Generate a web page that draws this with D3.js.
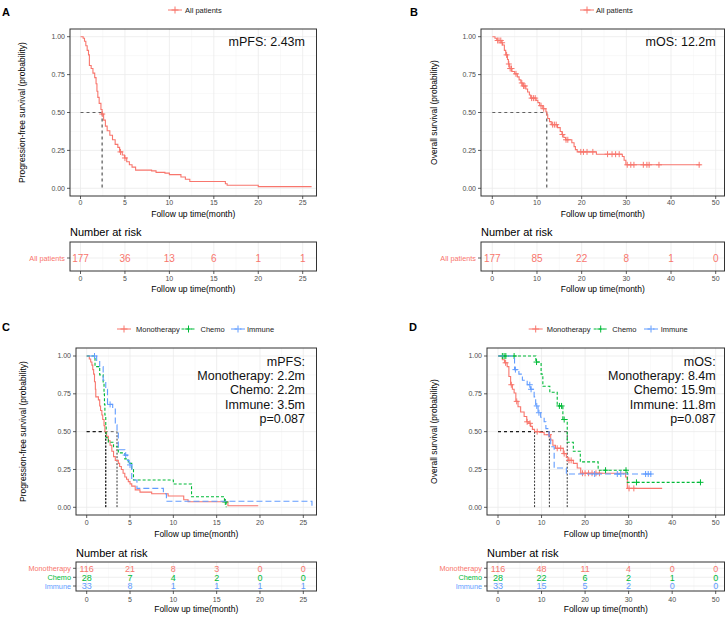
<!DOCTYPE html>
<html>
<head>
<meta charset="utf-8">
<script src="https://cdn.jsdelivr.net/npm/d3@7"></script>
<style>
  body { margin: 0; background: #fff; }
  svg { display: block; }
</style>
</head>
<body>
<svg id="chart" width="727" height="619"></svg>
<script>
// ---- data ----
// A: PFS, all patients
const pfsAllT = [0, 0.3, 0.45, 0.6, 0.75, 0.9, 1.0, 1.2, 1.4, 1.6, 1.75, 1.85, 1.95, 2.1, 2.3, 2.43, 2.6, 2.8, 3.0, 3.3, 3.6, 3.9, 4.2, 4.4, 4.7, 4.95, 5.2, 5.5, 5.8, 6.2, 8.0, 8.5, 9.5, 10.0, 11.3, 11.8, 12.3, 16.3, 16.5, 20.0, 26.0];
const pfsAllS = [1, 0.99, 0.97, 0.94, 0.91, 0.88, 0.81, 0.79, 0.76, 0.73, 0.69, 0.64, 0.60, 0.56, 0.52, 0.49, 0.45, 0.41, 0.38, 0.35, 0.32, 0.29, 0.27, 0.24, 0.22, 0.20, 0.175, 0.155, 0.14, 0.12, 0.115, 0.105, 0.10, 0.09, 0.075, 0.06, 0.045, 0.03, 0.02, 0.011, 0.011];
const pfsAllCens = [2.45, 4.5, 5.0];

// B: OS, all patients
const osAllT = [0, 0.6, 1.0, 2.0, 2.3, 2.7, 3.0, 3.4, 3.6, 3.8, 4.4, 5.0, 5.6, 6.0, 6.4, 6.8, 7.5, 7.9, 8.3, 8.6, 9.8, 10.2, 10.6, 11.3, 12.0, 12.2, 12.4, 12.8, 13.2, 14.6, 15.2, 15.6, 16.0, 16.4, 17.8, 18.3, 18.6, 19.0, 23.3, 29.1, 29.5, 29.9, 46.6];
const osAllS = [1, 0.99, 0.975, 0.96, 0.945, 0.91, 0.88, 0.85, 0.82, 0.79, 0.77, 0.755, 0.735, 0.715, 0.695, 0.675, 0.655, 0.635, 0.615, 0.595, 0.58, 0.565, 0.545, 0.525, 0.505, 0.485, 0.46, 0.44, 0.42, 0.40, 0.375, 0.355, 0.335, 0.32, 0.30, 0.275, 0.255, 0.24, 0.225, 0.21, 0.185, 0.155, 0.155];
const osAllCens = [1.2, 1.5, 1.9, 2.2, 3.2, 3.7, 4.0, 4.3, 5.3, 6.6, 7.0, 7.3, 8.8, 9.2, 9.6, 10.9, 11.5, 13.5, 13.9, 14.3, 15.7, 16.5, 16.9, 19.8, 20.4, 21.2, 22.5, 25.8, 26.8, 27.6, 28.4, 30.2, 31.0, 31.7, 33.8, 34.6, 35.1, 37.3, 46.3];

// C: PFS by group
const pfsMonoT = [0, 0.3, 0.46, 0.6, 0.7, 0.8, 0.9, 1.0, 1.05, 1.35, 1.5, 1.6, 1.75, 1.85, 2.0, 2.1, 2.3, 2.5, 2.7, 2.9, 3.1, 3.3, 3.65, 3.8, 4.0, 4.2, 4.4, 4.6, 4.8, 5.0, 5.2, 5.6, 6.15, 7.5, 9.4, 11.2, 11.7, 16.3, 19.8];
const pfsMonoS = [1, 0.98, 0.96, 0.94, 0.91, 0.88, 0.83, 0.78, 0.73, 0.71, 0.67, 0.64, 0.61, 0.58, 0.54, 0.50, 0.47, 0.44, 0.41, 0.37, 0.335, 0.31, 0.29, 0.27, 0.25, 0.225, 0.20, 0.185, 0.17, 0.155, 0.14, 0.115, 0.10, 0.09, 0.075, 0.05, 0.037, 0.01, 0.01];
const pfsMonoCens = [];
const pfsChemoT = [0, 0.96, 1.5, 1.9, 2.0, 2.05, 2.1, 2.2, 2.25, 2.5, 3.1, 3.65, 4.4, 4.8, 5.2, 5.4, 10.0, 12.1, 15.9, 16.1];
const pfsChemoS = [1, 0.93, 0.875, 0.82, 0.75, 0.68, 0.61, 0.54, 0.46, 0.43, 0.40, 0.36, 0.32, 0.29, 0.25, 0.18, 0.154, 0.07, 0.035, 0];
const pfsChemoCens = [16.0];
const pfsImmT = [0, 1.15, 1.5, 1.9, 2.2, 2.4, 3.0, 3.3, 3.5, 3.65, 4.4, 4.7, 4.9, 5.2, 5.8, 8.85, 9.2, 26.0];
const pfsImmS = [1, 0.97, 0.93, 0.84, 0.78, 0.68, 0.655, 0.545, 0.50, 0.38, 0.345, 0.31, 0.28, 0.18, 0.125, 0.09, 0.04, 0];
const pfsImmCens = [0.9, 2.7, 4.5, 5.0];

// D: OS by group
const osMonoT = [0, 1.0, 1.5, 2.1, 2.5, 2.9, 3.3, 3.7, 4.1, 4.6, 5.2, 6.0, 6.6, 7.1, 7.5, 7.9, 8.4, 9.6, 10.6, 12.1, 12.6, 13.2, 15.0, 15.7, 16.1, 17.3, 18.2, 19.0, 29.3, 29.7, 37.7];
const osMonoS = [1, 0.975, 0.955, 0.93, 0.865, 0.81, 0.78, 0.755, 0.70, 0.665, 0.63, 0.60, 0.565, 0.555, 0.535, 0.515, 0.50, 0.495, 0.48, 0.445, 0.41, 0.39, 0.355, 0.33, 0.31, 0.29, 0.26, 0.225, 0.20, 0.125, 0.125];
const osMonoCens = [1.75, 3.06, 4.3, 6.7, 7.35, 9.0, 11.7, 13.6, 14.4, 15.2, 16.3, 16.8, 19.4, 20.0, 20.8, 21.6, 22.5, 23.3, 30.1, 31.2];
const osChemoT = [0, 8.7, 9.9, 10.3, 11.9, 13.6, 14.9, 15.9, 17.3, 18.9, 23.0, 29.7, 46.5];
const osChemoS = [1, 0.96, 0.88, 0.80, 0.76, 0.67, 0.58, 0.43, 0.37, 0.30, 0.245, 0.165, 0.165];
const osChemoCens = [1.0, 1.4, 1.8, 3.7, 8.85, 14.1, 14.6, 15.2, 24.7, 29.4, 31.8, 46.5];
const osImmT = [0, 3.8, 4.8, 5.6, 6.7, 7.5, 8.3, 8.65, 9.2, 9.8, 10.6, 11.0, 11.7, 12.1, 12.9, 15.7, 35.2];
const osImmS = [1, 0.91, 0.88, 0.84, 0.81, 0.78, 0.73, 0.67, 0.625, 0.595, 0.565, 0.52, 0.47, 0.40, 0.26, 0.22, 0.22];
const osImmCens = [4.0, 7.3, 7.6, 8.9, 9.4, 22.2, 27.4, 28.2, 33.9, 34.5, 35.1];

// numbers at risk
const riskTimesPfs = [0, 5, 10, 15, 20, 25];
const riskTimesOs = [0, 10, 20, 30, 40, 50];
const riskPfsAll = [177, 36, 13, 6, 1, 1];
const riskOsAll = [177, 85, 22, 8, 1, 0];
const riskPfsMono = [116, 21, 8, 3, 0, 0];
const riskPfsChemo = [28, 7, 4, 2, 0, 0];
const riskPfsImm = [33, 8, 1, 1, 1, 1];
const riskOsMono = [116, 48, 11, 4, 0, 0];
const riskOsChemo = [28, 22, 6, 2, 1, 0];
const riskOsImm = [33, 15, 5, 2, 0, 0];

const yTicks = [0, 0.25, 0.5, 0.75, 1];
const groups = ['Monotherapy', 'Chemo', 'Immune'];

// ---- style ----
const FONT = '"Liberation Sans", Arial, sans-serif';
const RED = '#F8766D', GREEN = '#00BA38', BLUE = '#619CFF';
const DASH = {solid: null, chemo: '3,2', imm: '6,3'};

const svg = d3.select('#chart').style('font-family', FONT);

function stepAt(T, S, t) {
  let i = d3.bisectRight(T, t) - 1;
  return S[Math.max(0, i)];
}

function drawPanel(p) {
  const g = svg.append('g');
  const x = d3.scaleLinear().domain([0, p.xMax]).range(p.xRange);
  const y = d3.scaleLinear().domain([0, 1]).range(p.yRange);
  const [bl, br] = p.boxX, [bt, bb] = p.boxY;
  const step = p.xMax / 5;
  const xTicks = d3.range(0, p.xMax + 0.001, step);
  const xMinor = d3.range(step / 2, p.xMax + step, step).filter(v => x(v) < br);

  // letter
  g.append('text').attr('x', p.letter[1]).attr('y', p.letter[2])
    .attr('font-size', 11).attr('font-weight', 'bold').text(p.letter[0]);

  // legend
  p.legend.forEach(it => {
    const lg = g.append('g');
    lg.append('line').attr('x1', it.cx - 7).attr('x2', it.cx + 7)
      .attr('y1', p.legendY).attr('y2', p.legendY)
      .attr('stroke', it.color).attr('stroke-width', 1).attr('stroke-dasharray', it.dash);
    lg.append('path').attr('d', `M${it.cx - 3.5},${p.legendY}h7M${it.cx},${p.legendY - 3.5}v7`)
      .attr('stroke', it.color).attr('stroke-width', 1);
    lg.append('text').attr('x', it.tx).attr('y', p.legendY).attr('dy', '0.35em')
      .attr('font-size', 7.5).attr('fill', '#222').text(it.label);
  });

  // grid
  const grid = g.append('g');
  xMinor.forEach(v => grid.append('line').attr('x1', x(v)).attr('x2', x(v)).attr('y1', bt).attr('y2', bb)
    .attr('stroke', '#F3F3F3').attr('stroke-width', 0.5));
  [0.125, 0.375, 0.625, 0.875].forEach(v => grid.append('line').attr('x1', bl).attr('x2', br).attr('y1', y(v)).attr('y2', y(v))
    .attr('stroke', '#F3F3F3').attr('stroke-width', 0.5));
  xTicks.forEach(v => grid.append('line').attr('x1', x(v)).attr('x2', x(v)).attr('y1', bt).attr('y2', bb)
    .attr('stroke', '#EBEBEB').attr('stroke-width', 0.8));
  yTicks.forEach(v => grid.append('line').attr('x1', bl).attr('x2', br).attr('y1', y(v)).attr('y2', y(v))
    .attr('stroke', '#EBEBEB').attr('stroke-width', 0.8));

  // median lines
  p.medians.forEach(m => {
    g.append('line').attr('x1', x(0)).attr('x2', x(m)).attr('y1', y(0.5)).attr('y2', y(0.5))
      .attr('stroke', '#000').attr('stroke-width', 0.6).attr('stroke-dasharray', '3,3');
    g.append('line').attr('x1', x(m)).attr('x2', x(m)).attr('y1', y(0.5)).attr('y2', y(0))
      .attr('stroke', '#000').attr('stroke-width', 0.8).attr('stroke-dasharray', p.medians.length > 1 ? '2,1.5' : '3,3');
  });

  // curves
  const line = d3.line().curve(d3.curveStepAfter).x(d => x(d[0])).y(d => y(d[1]));
  p.curves.forEach(c => {
    g.append('path').datum(c.T.map((t, i) => [t, c.S[i]]))
      .attr('d', line).attr('fill', 'none').attr('stroke', c.color)
      .attr('stroke-width', 1.1).attr('stroke-dasharray', c.dash);
    g.selectAll(null).data(c.cens).join('path')
      .attr('d', t => {
        const cx = x(t), cy = y(stepAt(c.T, c.S, t));
        return `M${cx - 3},${cy}h6M${cx},${cy - 3}v6`;
      })
      .attr('stroke', c.color).attr('stroke-width', 1).attr('fill', 'none');
  });

  // box
  g.append('rect').attr('x', bl).attr('y', bt).attr('width', br - bl).attr('height', bb - bt)
    .attr('fill', 'none').attr('stroke', '#333').attr('stroke-width', 1);

  // axes ticks + labels
  yTicks.forEach(v => {
    g.append('line').attr('x1', bl - 3).attr('x2', bl).attr('y1', y(v)).attr('y2', y(v)).attr('stroke', '#333').attr('stroke-width', 0.8);
    g.append('text').attr('x', bl - 5).attr('y', y(v)).attr('dy', '0.35em').attr('text-anchor', 'end')
      .attr('font-size', 7).attr('fill', '#4D4D4D').text(d3.format('.2f')(v));
  });
  xTicks.forEach(v => {
    g.append('line').attr('x1', x(v)).attr('x2', x(v)).attr('y1', bb).attr('y2', bb + 3).attr('stroke', '#333').attr('stroke-width', 0.8);
    g.append('text').attr('x', x(v)).attr('y', p.tickY).attr('dy', '0.35em').attr('text-anchor', 'middle')
      .attr('font-size', 7).attr('fill', '#4D4D4D').text(v);
  });
  g.append('text').attr('x', (bl + br) / 2).attr('y', p.xTitleY).attr('dy', '0.35em').attr('text-anchor', 'middle')
    .attr('font-size', 8.5).text('Follow up time(month)');
  g.append('text').attr('transform', `translate(${p.yTitleX},${(bt + bb) / 2}) rotate(-90)`)
    .attr('dy', '0.35em').attr('text-anchor', 'middle').attr('font-size', 8.5).text(p.yTitle);

  // annotation
  p.annot.forEach((s, i) => g.append('text').attr('x', p.annotX).attr('y', p.annotY[i]).attr('dy', '0.35em')
    .attr('text-anchor', 'end').attr('font-size', 12.5).attr('fill', '#111').text(s));

  // risk table
  const r = p.risk;
  const [rt, rb] = r.box;
  g.append('text').attr('x', bl).attr('y', r.titleY).attr('dy', '0.35em').attr('font-size', 11).text('Number at risk');
  xMinor.forEach(v => g.append('line').attr('x1', x(v)).attr('x2', x(v)).attr('y1', rt).attr('y2', rb)
    .attr('stroke', '#F3F3F3').attr('stroke-width', 0.5));
  xTicks.forEach(v => g.append('line').attr('x1', x(v)).attr('x2', x(v)).attr('y1', rt).attr('y2', rb)
    .attr('stroke', '#EBEBEB').attr('stroke-width', 0.8));
  r.rows.forEach((row, j) => {
    const ry = r.rowY[j];
    g.append('line').attr('x1', bl).attr('x2', br).attr('y1', ry).attr('y2', ry).attr('stroke', '#EBEBEB').attr('stroke-width', 0.8);
    g.append('line').attr('x1', bl - 3).attr('x2', bl).attr('y1', ry).attr('y2', ry).attr('stroke', '#333').attr('stroke-width', 0.8);
    g.append('text').attr('x', bl - 5).attr('y', ry).attr('dy', '0.35em').attr('text-anchor', 'end')
      .attr('font-size', 7.3).attr('fill', row.color).text(row.label);
    row.values.forEach((v, k) => g.append('text').attr('x', x(r.times[k])).attr('y', ry).attr('dy', '0.36em')
      .attr('text-anchor', 'middle').attr('font-size', r.rows.length > 1 ? 9 : 10).attr('fill', row.color).text(v));
  });
  g.append('rect').attr('x', bl).attr('y', rt).attr('width', br - bl).attr('height', rb - rt)
    .attr('fill', 'none').attr('stroke', '#333').attr('stroke-width', 1);
  xTicks.forEach(v => {
    g.append('line').attr('x1', x(v)).attr('x2', x(v)).attr('y1', rb).attr('y2', rb + 3).attr('stroke', '#333').attr('stroke-width', 0.8);
    g.append('text').attr('x', x(v)).attr('y', r.tickY).attr('dy', '0.35em').attr('text-anchor', 'middle')
      .attr('font-size', 7).attr('fill', '#4D4D4D').text(v);
  });
  g.append('text').attr('x', (bl + br) / 2).attr('y', r.xTitleY).attr('dy', '0.35em').attr('text-anchor', 'middle')
    .attr('font-size', 8.5).text('Follow up time(month)');
}

const topY = {boxY: [29, 196], yRange: [188.3, 36.7], tickY: 203, xTitleY: 214, legendY: 10, annotY: [42]};
const botY = {boxY: [348, 515], yRange: [507.3, 356], tickY: 522.7, xTitleY: 534, legendY: 329,
  annotY: [361.7, 375.7, 390, 404.3, 418.3]};

drawPanel(Object.assign({}, topY, {
  letter: ['A', 2, 16], xMax: 25, xRange: [80.5, 302.7], boxX: [70, 316.5], yTitleX: 22,
  yTitle: 'Progression-free survival (probability)',
  legend: [{cx: 175, tx: 185, label: 'All patients', color: RED, dash: null}],
  medians: [2.43], annotX: 305, annot: ['mPFS: 2.43m'],
  curves: [{T: pfsAllT, S: pfsAllS, cens: pfsAllCens, color: RED, dash: null}],
  risk: {box: [242, 271], titleY: 232, rowY: [258], tickY: 279, xTitleY: 289, times: riskTimesPfs,
    rows: [{label: 'All patients', color: RED, values: riskPfsAll}]}
}));

drawPanel(Object.assign({}, topY, {
  letter: ['B', 410, 16], xMax: 50, xRange: [492.3, 715.7], boxX: [481, 724.5], yTitleX: 434,
  yTitle: 'Overall survival (probability)',
  legend: [{cx: 587, tx: 596, label: 'All patients', color: RED, dash: null}],
  medians: [12.2], annotX: 715.7, annot: ['mOS: 12.2m'],
  curves: [{T: osAllT, S: osAllS, cens: osAllCens, color: RED, dash: null}],
  risk: {box: [242, 271], titleY: 232, rowY: [258], tickY: 279, xTitleY: 289, times: riskTimesOs,
    rows: [{label: 'All patients', color: RED, values: riskOsAll}]}
}));

drawPanel(Object.assign({}, botY, {
  letter: ['C', 2, 331], xMax: 25, xRange: [86.7, 303.3], boxX: [76, 316.5], yTitleX: 23,
  yTitle: 'Progression-free survival (probability)',
  legend: [
    {cx: 124, tx: 136, label: groups[0], color: RED, dash: DASH.solid},
    {cx: 188.5, tx: 200.5, label: groups[1], color: GREEN, dash: DASH.chemo},
    {cx: 238, tx: 247, label: groups[2], color: BLUE, dash: DASH.imm}],
  medians: [2.2, 2.2, 3.5], annotX: 305,
  annot: ['mPFS:', 'Monotherapy: 2.2m', 'Chemo: 2.2m', 'Immune: 3.5m', 'p=0.087'],
  curves: [
    {T: pfsMonoT, S: pfsMonoS, cens: pfsMonoCens, color: RED, dash: DASH.solid},
    {T: pfsChemoT, S: pfsChemoS, cens: pfsChemoCens, color: GREEN, dash: DASH.chemo},
    {T: pfsImmT, S: pfsImmS, cens: pfsImmCens, color: BLUE, dash: DASH.imm}],
  risk: {box: [562, 591], titleY: 552.7, rowY: [568.3, 577.3, 586], tickY: 600, xTitleY: 609.3, times: riskTimesPfs,
    rows: [
      {label: groups[0], color: RED, values: riskPfsMono},
      {label: groups[1], color: GREEN, values: riskPfsChemo},
      {label: groups[2], color: BLUE, values: riskPfsImm}]}
}));

drawPanel(Object.assign({}, botY, {
  letter: ['D', 409, 331], xMax: 50, xRange: [498, 715.7], boxX: [487, 724.5], yTitleX: 434,
  yTitle: 'Overall survival (probability)',
  legend: [
    {cx: 535.7, tx: 546.7, label: groups[0], color: RED, dash: DASH.solid},
    {cx: 600.7, tx: 612.3, label: groups[1], color: GREEN, dash: DASH.chemo},
    {cx: 651, tx: 660.7, label: groups[2], color: BLUE, dash: DASH.imm}],
  medians: [8.4, 15.9, 11.8], annotX: 715.7,
  annot: ['mOS:', 'Monotherapy: 8.4m', 'Chemo: 15.9m', 'Immune: 11.8m', 'p=0.087'],
  curves: [
    {T: osMonoT, S: osMonoS, cens: osMonoCens, color: RED, dash: DASH.solid},
    {T: osChemoT, S: osChemoS, cens: osChemoCens, color: GREEN, dash: DASH.chemo},
    {T: osImmT, S: osImmS, cens: osImmCens, color: BLUE, dash: DASH.imm}],
  risk: {box: [562, 591], titleY: 552.7, rowY: [568.3, 577.3, 586], tickY: 600, xTitleY: 609.3, times: riskTimesOs,
    rows: [
      {label: groups[0], color: RED, values: riskOsMono},
      {label: groups[1], color: GREEN, values: riskOsChemo},
      {label: groups[2], color: BLUE, values: riskOsImm}]}
}));
</script>
</body>
</html>
